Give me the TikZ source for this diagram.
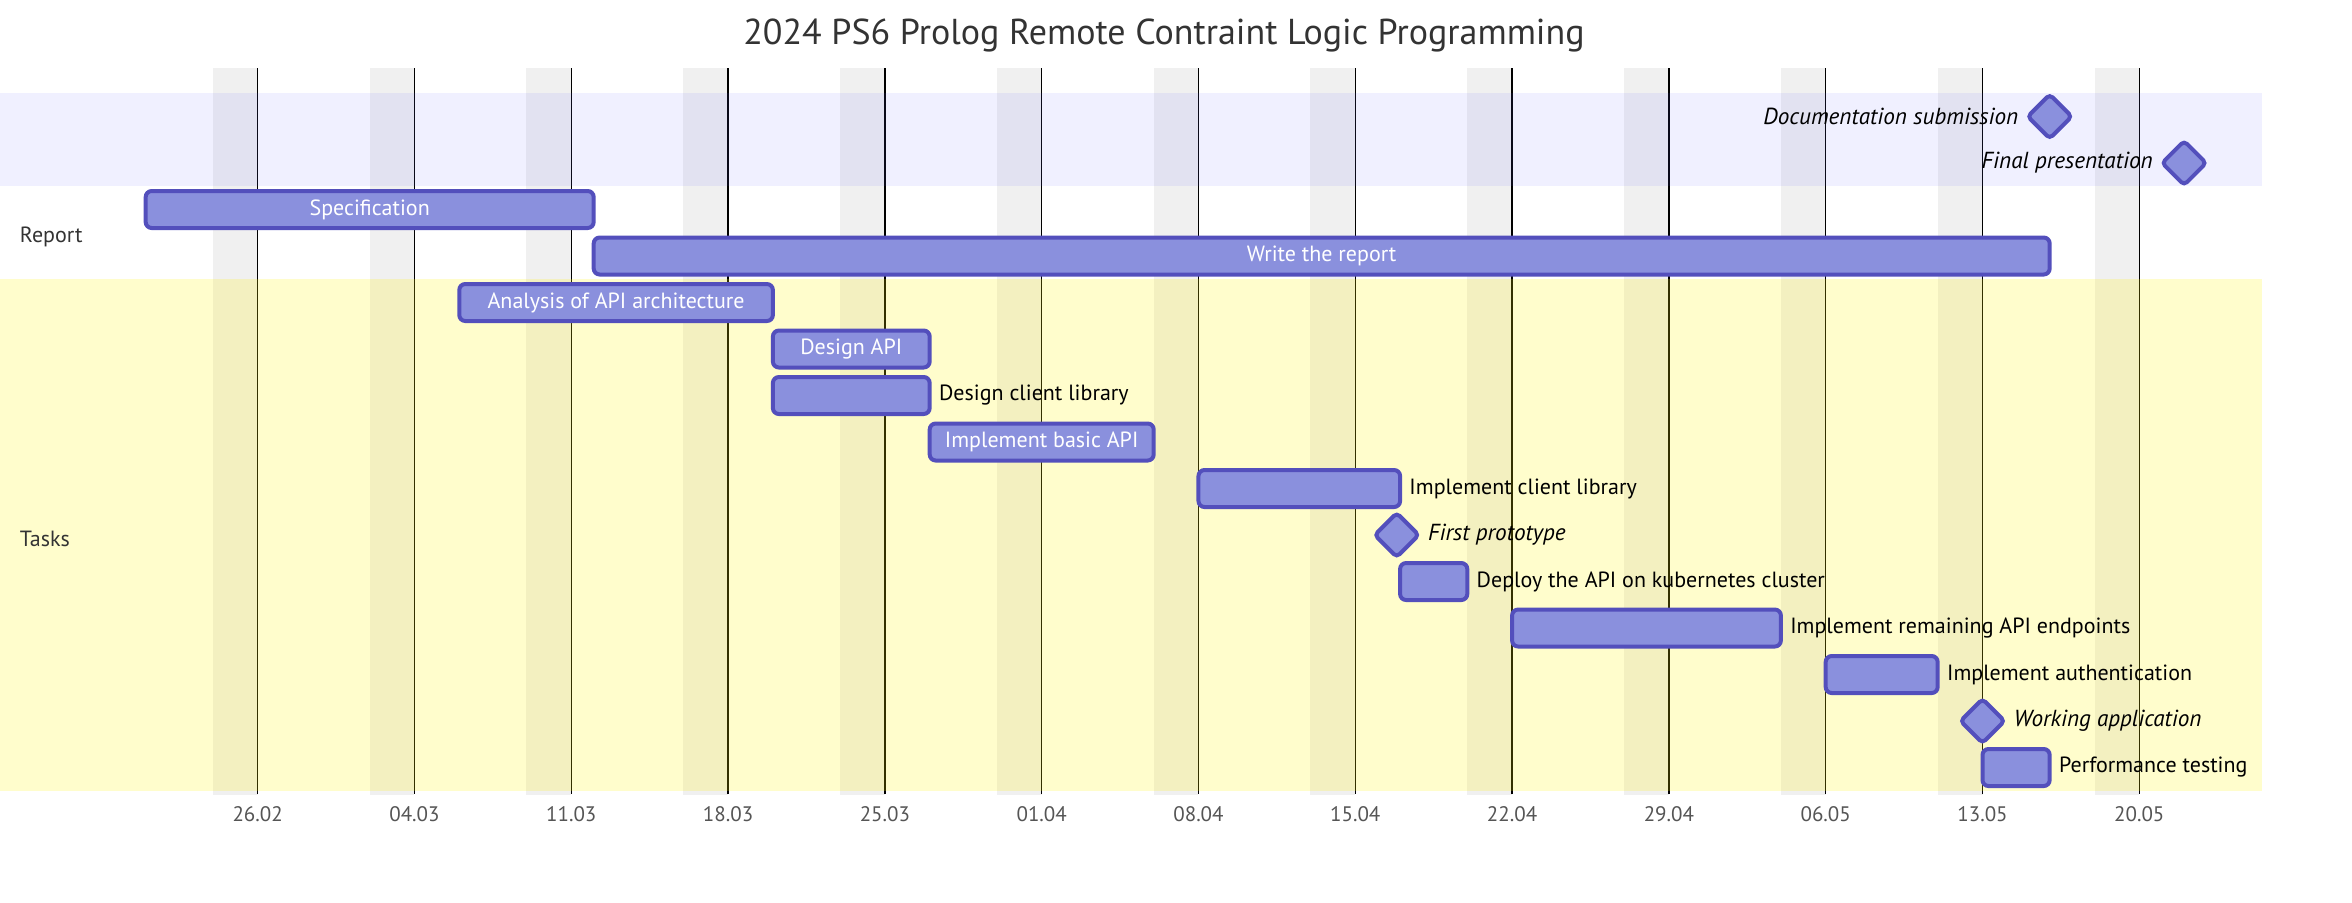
\documentclass[tikz,border=0pt]{standalone}
\usepackage{fontspec}
\usepackage{tikz}
\usetikzlibrary{positioning,shapes.geometric}
\setmainfont{PT Sans}
\definecolor{barfill}{HTML}{8A90DD}
\definecolor{barline}{HTML}{534FBC}
\definecolor{sectionblue}{RGB}{102,102,255}
\definecolor{sectionyellow}{HTML}{FFF400}
\definecolor{weekendgray}{HTML}{F0F0F0}
\definecolor{titlegray}{HTML}{333333}
\definecolor{tickgray}{HTML}{555555}
\newcommand{\taskfont}{\fontsize{11}{13}\selectfont}
\newcommand{\dayw}{11.2pt}

\begin{document}
\begin{tikzpicture}[
    x=11.2pt, y=-23.25pt,
    bar/.style={rectangle, draw=barline, fill=barfill, line width=2pt, rounded corners=3pt, minimum height=18.5pt, inner sep=0pt, outer sep=0pt, anchor=west, text=white, font=\taskfont},
    milestone/.style={diamond, draw=barline, fill=barfill, line width=2pt, rounded corners=2pt, minimum width=22pt, minimum height=22pt, inner sep=0pt, outer sep=0pt},
    outlabel/.style={inner sep=0pt, font=\taskfont},
    mslabel/.style={inner sep=0pt, font=\fontsize{11.6}{13}\selectfont\itshape},
    sectionlabel/.style={anchor=west, inner sep=0pt, text=titlegray, font=\taskfont},
    tick/.style={inner sep=0pt, text=tickgray, font=\fontsize{10.5}{12}\selectfont},
    weekend/.style={fill=weekendgray},
    gridline/.style={draw=black, line width=0.75pt},
]

% Canvas
\useasboundingbox (-11.504,-2.006) rectangle (93.496,17.413);

% Title
\node[text=titlegray, font=\fontsize{18}{21}\selectfont] (title) at (40.46,-1.24) {2024 PS6 Prolog Remote Contraint Logic Programming};

% Weekends, week lines and dates
\foreach \k/\date in {0/26.02, 1/04.03, 2/11.03, 3/18.03, 4/25.03, 5/01.04, 6/08.04, 7/15.04, 8/22.04, 9/29.04, 10/06.05, 11/13.05, 12/20.05} {
    \fill[weekend] ({7*\k-2},-0.538) rectangle ({7*\k},15.09);
    \draw[gridline] ({7*\k},-0.538) -- ({7*\k},15.07);
    \node[tick] (tick\k) at ({7*\k},15.5) {\date};
}

% Sections
\fill[sectionblue, fill opacity=0.098] (-11.504,0) rectangle (89.48,2);
\fill[sectionyellow, fill opacity=0.2] (-11.504,4) rectangle (89.48,15);
\node[sectionlabel] (report) at (-10.63,3.08) {Report};
\node[sectionlabel] (tasks) at (-10.63,9.58) {Tasks};

% Deadlines
\node[milestone] (docsub) at (80,0.5) {};
\node[mslabel, left=4.5pt of docsub] (docsublbl) {Documentation submission};
\node[milestone] (finalpres) at (86,1.5) {};
\node[mslabel, left=4.5pt of finalpres] (finalpreslbl) {Final presentation};

% Report
\node[bar, minimum width=20*\dayw] (spec) at (-5,2.5) {Specification};
\node[bar, minimum width=65*\dayw] (writereport) at (15,3.5) {Write the report};

% Tasks
\node[bar, minimum width=14*\dayw] (analysis) at (9,4.5) {Analysis of API architecture};
\node[bar, minimum width=7*\dayw] (designapi) at (23,5.5) {Design API};
\node[bar, minimum width=7*\dayw] (designlib) at (23,6.5) {};
\node[outlabel, right=4.5pt of designlib] (designliblbl) {Design client library};
\node[bar, minimum width=10*\dayw] (basicapi) at (30,7.5) {Implement basic API};
\node[bar, minimum width=9*\dayw] (clientlib) at (42,8.5) {};
\node[outlabel, right=4.5pt of clientlib] (clientliblbl) {Implement client library};
\node[milestone] (proto) at (50.85,9.5) {};
\node[mslabel, right=4.5pt of proto] (protolbl) {First prototype};
\node[bar, minimum width=3*\dayw] (deploy) at (51,10.5) {};
\node[outlabel, right=4.5pt of deploy] (deploylbl) {Deploy the API on kubernetes cluster};
\node[bar, minimum width=12*\dayw] (endpoints) at (56,11.5) {};
\node[outlabel, right=4.5pt of endpoints] (endpointslbl) {Implement remaining API endpoints};
\node[bar, minimum width=5*\dayw] (auth) at (70,12.5) {};
\node[outlabel, right=4.5pt of auth] (authlbl) {Implement authentication};
\node[milestone] (workapp) at (77,13.5) {};
\node[mslabel, right=4.5pt of workapp] (workapplbl) {Working application};
\node[bar, minimum width=3*\dayw] (perftest) at (77,14.5) {};
\node[outlabel, right=4.5pt of perftest] (perftestlbl) {Performance testing};

\end{tikzpicture}
\end{document}
